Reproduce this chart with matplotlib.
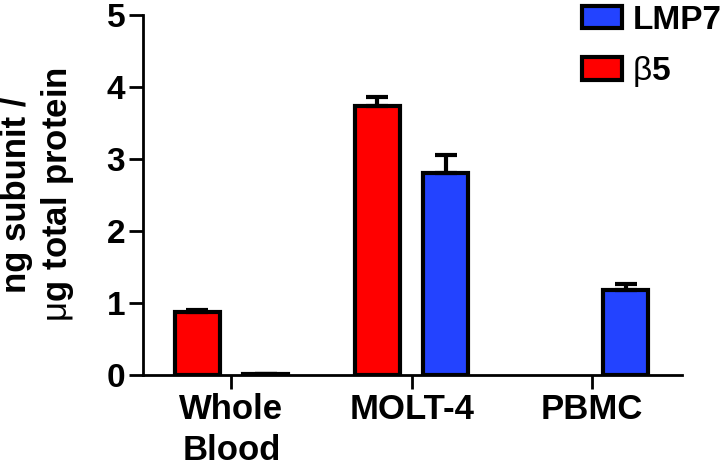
import numpy as np
import matplotlib
matplotlib.use('Agg')
from matplotlib import pyplot as plt

plt.rcParams['font.family'] = 'Liberation Sans'
plt.rcParams['mathtext.fontset'] = 'custom'
plt.rcParams['mathtext.rm'] = 'Liberation Sans'
plt.rcParams['mathtext.bf'] = 'Liberation Sans:bold'

# data
samples = ['Whole\nBlood', 'MOLT-4', 'PBMC']
beta5 = [0.87, 3.73, 0.0]
beta5_err = [0.03, 0.13, np.nan]   # no beta5 measured in PBMC
lmp7 = [0.01, 2.81, 1.18]
lmp7_err = [0.0, 0.25, 0.09]

red = '#FF0000'
blue = '#2343FF'

fig = plt.figure(figsize=(7.23, 4.66), dpi=100)
ax = fig.add_axes([0.198, 0.195, 0.745, 0.773])

x = np.arange(len(samples))
w = 0.25
off = 0.19

ekw = dict(elinewidth=3, capthick=3, ecolor='black')
e1 = np.array(beta5_err)
e2 = np.array(lmp7_err)
b1 = ax.bar(x - off, beta5, w, color=red, edgecolor='black', linewidth=3,
            yerr=[e1 * 0, e1], capsize=8, error_kw=ekw, zorder=3)
b2 = ax.bar(x + off, lmp7, w, color=blue, edgecolor='black', linewidth=3,
            yerr=[e2 * 0, e2], capsize=8, error_kw=ekw, zorder=3)
b1[2].set_visible(False)

ax.set_xlim(-0.49, 2.5)
ax.set_ylim(0, 5)
ax.set_yticks([0, 1, 2, 3, 4, 5])
ax.set_xticks(x)
ax.set_xticklabels(samples, fontsize=25, fontweight='bold', linespacing=1.3)
for t in ax.get_yticklabels():
    t.set_fontsize(24)
    t.set_fontweight('bold')

for s in ['top', 'right']:
    ax.spines[s].set_visible(False)
for s in ['left', 'bottom']:
    ax.spines[s].set_linewidth(2)
ax.tick_params(axis='both', width=2, length=10, pad=3)

ax.set_ylabel('ng subunit /\n$\\mathrm{\\mu}\\mathbf{g\\ total\\ protein}$',
              fontsize=25, fontweight='bold', linespacing=1.2)
ax.yaxis.set_label_coords(-0.125, 0.5)

leg = fig.legend([b2, b1], ['LMP7', '$\\mathrm{\\beta}\\mathbf{5}$'],
                 loc='upper right', bbox_to_anchor=(1.03, 1.04), frameon=False,
                 prop={'size': 24, 'weight': 'bold'}, handlelength=1.2,
                 handleheight=0.67, handletextpad=0.3, labelspacing=0.55,
                 borderpad=0.2)

fig.savefig('out.png', dpi=100)
